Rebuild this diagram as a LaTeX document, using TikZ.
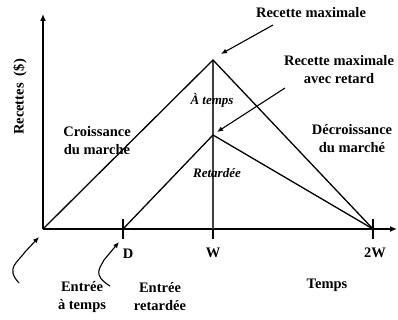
\documentclass[tikz,border=0pt]{standalone}
\usepackage{fontspec}
\setmainfont{Liberation Serif}
\usepackage{tikz}
\usetikzlibrary{arrows.meta,positioning,calc}

\begin{document}
\begin{tikzpicture}[x=1pt,y=-1pt,font=\fontsize{14.5}{18}\selectfont\bfseries]
    \tikzstyle{lbl}=[align=center, inner sep=1pt]
    \tikzstyle{ital}=[font=\fontsize{13}{15}\selectfont\bfseries\itshape]
    \tikzstyle{axe}=[line width=1.8pt, -{Latex[length=7pt,width=6pt]}]
    \tikzstyle{courbe}=[line width=1.3pt]
    \tikzstyle{fleche}=[line width=1.1pt, -{Latex[length=6pt,width=5pt]}]
    \useasboundingbox (0,0) rectangle (398,320);
    % points principaux
    \coordinate (o) at (43,229);
    \coordinate (d) at (123,229);
    \coordinate (w) at (213,229);
    \coordinate (ww) at (373,229);
    \coordinate (pic) at (213,60);
    \coordinate (picr) at (213,135);
    % axes
    \draw[axe] (o) -- (43,14);
    \draw[axe] (o) -- (397,229);
    \foreach \p in {d,w,ww} \draw[line width=1.1pt] ($(\p)+(0,-10)$) -- ($(\p)+(0,10)$);
    \draw[line width=1.8pt, black!75] (pic) -- (w);
    % courbes
    \draw[courbe] (o) -- (pic) -- (ww);
    \draw[courbe] (d) -- (picr) -- (ww);
    % textes
    \node[lbl, rotate=90] (rec) at (20,97) {Recettes \ (\$)};
    \node[lbl] (dl) at (128,254) {D};
    \node[lbl] (wl) at (213,253) {W};
    \node[lbl] (wwl) at (375,253) {2W};
    \node[lbl] (tps) at (327,285) {Temps};
    \node[lbl] (max) at (311,13) {Recette maximale};
    \node[lbl] (maxr) at (339,70) {Recette maximale\\avec retard};
    \node[lbl] (crois) at (97,141) {Croissance\\du marché};
    \node[lbl] (decr) at (352,139) {Décroissance\\du marché};
    \node[lbl, ital] (atps) at (212,100) {À temps};
    \node[lbl, ital] (ret) at (217,173) {Retardée};
    \node[lbl] (eat) at (82,297) {Entrée\\à temps};
    \node[lbl] (eret) at (160,297) {Entrée\\retardée};
    % fleches
    \coordinate (fm) at (273,25);
    \coordinate (fmr) at (285,88);
    \draw[fleche] (fm) -- ($(pic)+(8,-6)$);
    \draw[fleche] (fmr) -- ($(picr)+(4,-3)$);
    \coordinate (c1) at (19,283);
    \coordinate (c2) at (110,286);
    \draw[fleche] (c1) .. controls (5,268) and (18,262) .. (25,252) -- ($(o)+(-4,8)$);
    \draw[fleche] (c2) .. controls (92,275) and (100,268) .. (104,260) -- ($(d)+(-4,13)$);
\end{tikzpicture}
\end{document}
